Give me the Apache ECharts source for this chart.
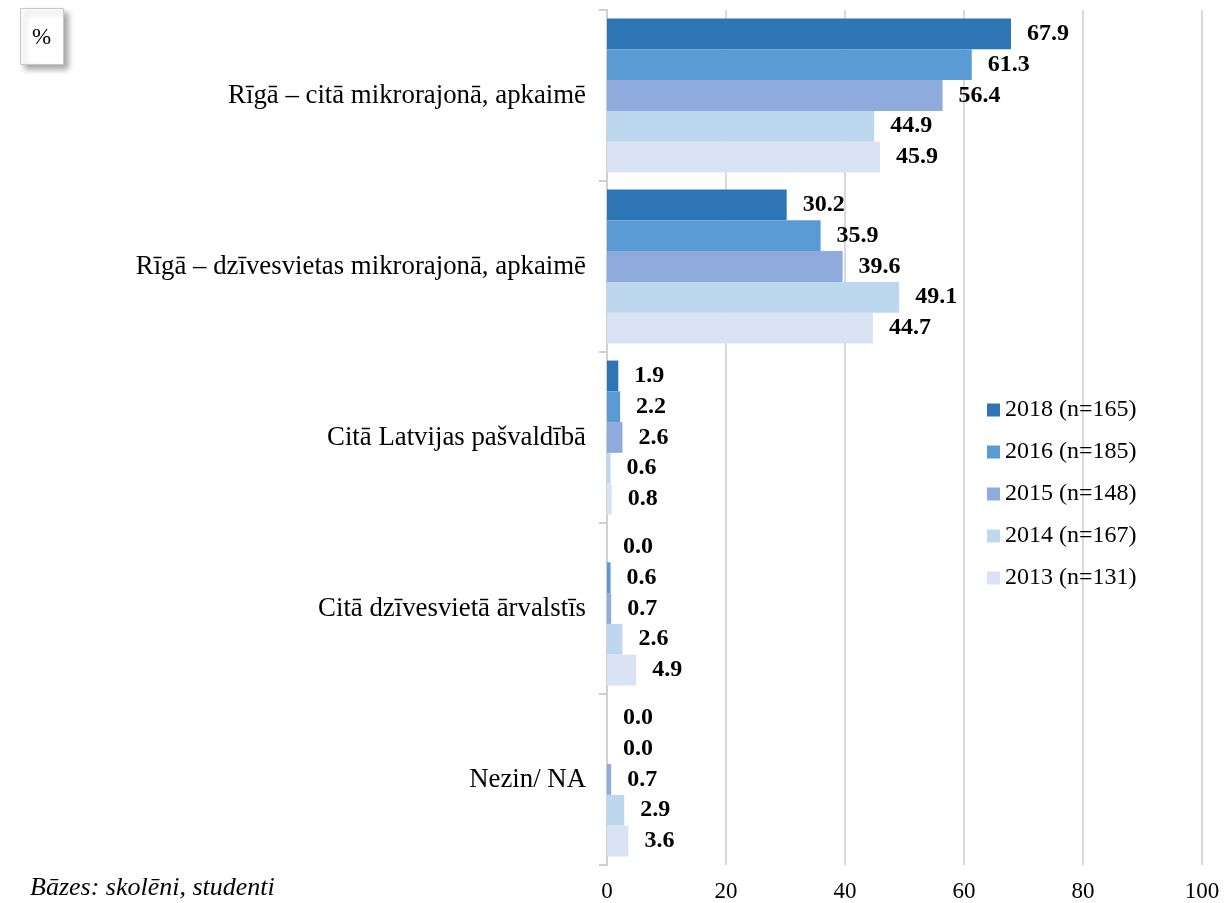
<!DOCTYPE html>
<html><head><meta charset="utf-8">
<script src="https://cdn.jsdelivr.net/npm/echarts@6/dist/echarts.min.js"></script>
<style>html,body{margin:0;padding:0;background:#fff}#c{width:1228px;height:903px}</style>
</head><body><div id="c"></div>
<script>
const categories = ["Rīgā – citā mikrorajonā, apkaimē","Rīgā – dzīvesvietas mikrorajonā, apkaimē","Citā Latvijas pašvaldībā","Citā dzīvesvietā ārvalstīs","Nezin/ NA"];
const seriesNames = ["2018 (n=165)","2016 (n=185)","2015 (n=148)","2014 (n=167)","2013 (n=131)"];
const v2018 = [67.9, 30.2, 1.9, 0.0, 0.0];
const v2016 = [61.3, 35.9, 2.2, 0.6, 0.0];
const v2015 = [56.4, 39.6, 2.6, 0.7, 0.7];
const v2014 = [44.9, 49.1, 0.6, 2.6, 2.9];
const v2013 = [45.9, 44.7, 0.8, 4.9, 3.6];
const xTicks = [0, 20, 40, 60, 80, 100];
const colors = ["#2E75B6","#5B9BD5","#8FAADC","#BDD7EE","#DAE3F3"];
const values = [v2018, v2016, v2015, v2014, v2013];
const font = "'Liberation Serif','Times New Roman',serif";

const chart = echarts.init(document.getElementById('c'));
chart.setOption({
  animation: false,
  textStyle: {fontFamily: font},
  grid: {left: 607, right: 26, top: 10, bottom: 35, containLabel: false},
  legend: {
    orient: 'vertical', left: 982, top: 393, itemGap: 18,
    itemWidth: 13, itemHeight: 13, icon: 'rect',
    textStyle: {fontFamily: font, fontSize: 24, color: '#000'},
    data: seriesNames
  },
  xAxis: {
    type: 'value', min: xTicks[0], max: xTicks[xTicks.length-1], interval: 20,
    axisLine: {show: false}, axisTick: {show: false},
    axisLabel: {fontFamily: font, fontSize: 23, color: '#000', margin: 15},
    splitLine: {lineStyle: {color: '#d9d9d9', width: 2}}
  },
  yAxis: {
    type: 'category', inverse: true, data: categories,
    axisLine: {lineStyle: {color: '#d0d0d0', width: 2}},
    axisTick: {show: true, length: 8, lineStyle: {color: '#d0d0d0', width: 2}},
    axisLabel: {fontFamily: font, fontSize: 26.8, color: '#000', margin: 21}
  },
  graphic: [
    {type: 'rect', left: 20, top: 8, shape: {width: 43, height: 56},
     style: {fill: '#fff', stroke: '#c8c8c8', lineWidth: 1, shadowBlur: 6, shadowOffsetX: 4, shadowOffsetY: 4, shadowColor: 'rgba(0,0,0,0.35)'}},
    {type: 'text', x: 41.5, y: 38, style: {text: '%', font: "23px " + font, fill: '#000', align: 'center', verticalAlign: 'middle'}},
    {type: 'text', left: 30, top: 875, style: {text: 'Bāzes: skolēni, studenti', font: "italic 26px " + font, fill: '#000'}}
  ],
  series: seriesNames.map((n, i) => ({
    name: n, type: 'bar', data: values[i], barGap: '0%', barCategoryGap: '10%',
    itemStyle: {color: colors[i]},
    label: {show: true, position: 'right', distance: 16, fontFamily: font, fontSize: 24, fontWeight: 'bold', color: '#000',
      formatter: p => p.value.toFixed(1)}
  }))
});
</script></body></html>
